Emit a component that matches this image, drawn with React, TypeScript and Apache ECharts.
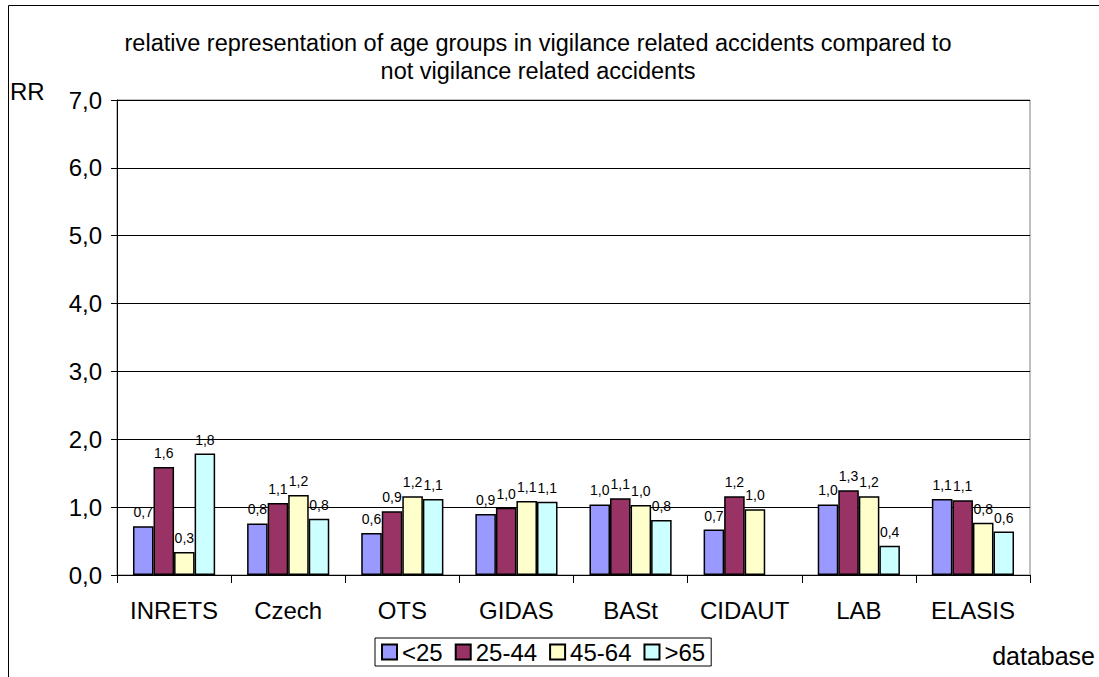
import React, { useEffect, useRef } from "react";
import * as echarts from "echarts";

const categories = ["INRETS", "Czech", "OTS", "GIDAS", "BASt", "CIDAUT", "LAB", "ELASIS"];
const seriesNames = ["<25", "25-44", "45-64", ">65"];
const under25 = [0.72, 0.76, 0.62, 0.9, 1.04, 0.67, 1.04, 1.12];
const age25to44 = [1.59, 1.06, 0.94, 0.99, 1.13, 1.16, 1.25, 1.1];
const age45to64 = [0.34, 1.18, 1.16, 1.09, 1.03, 0.97, 1.16, 0.77];
const over65 = [1.79, 0.83, 1.12, 1.08, 0.81, null, 0.43, 0.64];
const colors = ["#9999FF", "#993366", "#FFFFCC", "#CCFFFF"];
const titleLines = [
  "relative representation of age groups in vigilance related accidents compared to",
  "not vigilance related accidents",
];

const FONT = "'Liberation Sans', Arial, sans-serif";
const fmt = (v: number) => v.toFixed(1).replace(".", ",");

export default function App() {
  const ref = useRef<HTMLDivElement>(null);
  useEffect(() => {
    if (!ref.current) return;
    const chart = echarts.init(ref.current, null, { renderer: "svg" });
    const data = [under25, age25to44, age45to64, over65];
    chart.setOption({
      animation: false,
      backgroundColor: "#fff",
      textStyle: { fontFamily: FONT },
      grid: {
        left: 117,
        right: 69,
        top: 100,
        bottom: 102,
        show: true,
        borderColor: "#808080",
        borderWidth: 1,
      },
      legend: {
        left: 375,
        top: 638,
        data: seriesNames,
        itemWidth: 15,
        itemHeight: 15,
        itemGap: 12,
        borderColor: "#000",
        borderWidth: 1,
        padding: [2, 6, 2, 6],
        textStyle: { fontFamily: FONT, fontSize: 24, color: "#000" },
        icon: "rect",
      },
      xAxis: {
        type: "category",
        data: categories,
        axisLine: { lineStyle: { color: "#000", width: 1 } },
        axisTick: { show: true, length: 8, lineStyle: { color: "#000" } },
        axisLabel: {
          color: "#000",
          fontSize: 24,
          fontFamily: FONT,
          margin: 23,
          interval: 0,
          hideOverlap: false,
        },
      },
      yAxis: {
        type: "value",
        min: 0,
        max: 7,
        interval: 1,
        axisLine: { show: true, lineStyle: { color: "#000", width: 1 } },
        axisTick: { show: true, length: 6, lineStyle: { color: "#000" } },
        axisLabel: {
          color: "#000",
          fontSize: 24,
          fontFamily: FONT,
          margin: 15,
          formatter: (v: number) => fmt(v),
        },
        splitLine: { show: true, lineStyle: { color: "#000", width: 1 } },
      },
      series: seriesNames.map((name, i) => ({
        name,
        type: "bar",
        data: data[i],
        barGap: "0%",
        barCategoryGap: "28%",
        itemStyle: { color: colors[i], borderColor: "#000", borderWidth: 1.5 },
        label: {
          show: true,
          position: "top",
          distance: 7,
          color: "#000",
          fontSize: 14,
          fontFamily: FONT,
          formatter: (p: any) => (p.value == null ? "" : fmt(p.value)),
        },
      })),
      graphic: [
        {
          type: "rect",
          shape: { x: 8.5, y: 5.5, width: 1200, height: 800 },
          style: { fill: "none", stroke: "#000", lineWidth: 1 },
          silent: true,
        },
        {
          type: "text",
          x: 538,
          y: 43,
          style: {
            text: titleLines[0],
            fontSize: 23.5,
            fontFamily: FONT,
            fill: "#000",
            align: "center",
            verticalAlign: "middle",
          },
        },
        {
          type: "text",
          x: 538,
          y: 71,
          style: {
            text: titleLines[1],
            fontSize: 23.5,
            fontFamily: FONT,
            fill: "#000",
            align: "center",
            verticalAlign: "middle",
          },
        },
        {
          type: "text",
          x: 10,
          y: 91,
          style: {
            text: "RR",
            fontSize: 24,
            fontFamily: FONT,
            fill: "#000",
            align: "left",
            verticalAlign: "middle",
          },
        },
        {
          type: "text",
          x: 1095,
          y: 656,
          style: {
            text: "database",
            fontSize: 25,
            fontFamily: FONT,
            fill: "#000",
            align: "right",
            verticalAlign: "middle",
          },
        },
      ],
    });
    return () => chart.dispose();
  }, []);
  return (
    <div
      ref={ref}
      style={{ position: "absolute", left: 0, top: 0, width: 1099, height: 677 }}
    />
  );
}
